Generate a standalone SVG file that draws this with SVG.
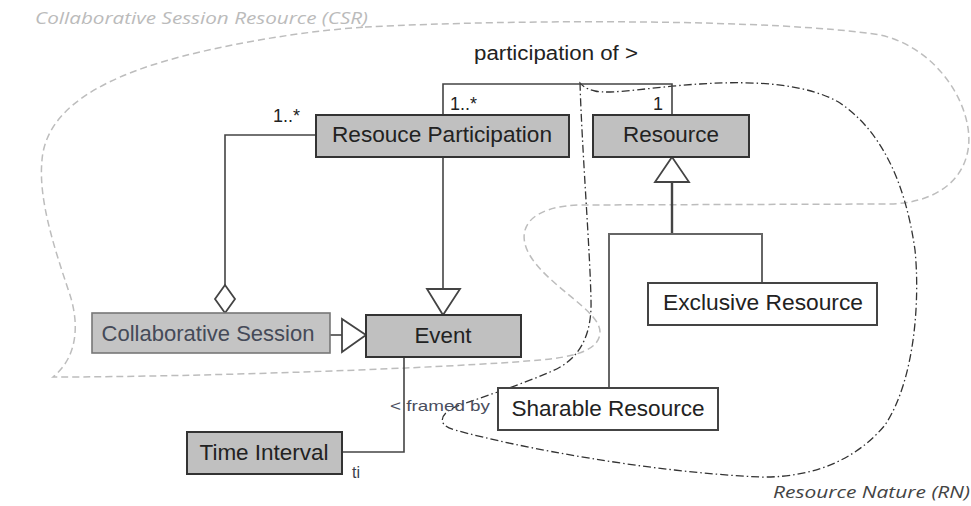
<svg xmlns="http://www.w3.org/2000/svg" width="971" height="506" viewBox="0 0 971 506">
  <style>
    .box { fill: #c0c0c0; stroke: #333; stroke-width: 2; }
    .box-light { fill: #c4c4c4; stroke: #777; stroke-width: 1.6; }
    .box-white { fill: #fff; stroke: #444; stroke-width: 2; }
    .label { font-family: "Liberation Sans", Arial, sans-serif; font-size: 22px; fill: #222; text-anchor: middle; }
    .small { font-family: "Liberation Sans", Arial, sans-serif; fill: #222; }
    .region { font-family: "Open Sans", "Liberation Sans", sans-serif; font-style: italic; font-size: 17px; }
    .line { fill: none; stroke: #444; stroke-width: 1.6; }
    .line-soft { fill: none; stroke: #666; stroke-width: 2; }
    .head { fill: #fff; stroke: #444; stroke-width: 1.8; stroke-linejoin: miter; }
    .csr { fill: none; stroke: #bdbdbd; stroke-width: 1.5; stroke-dasharray: 7 4; }
    .rn { fill: none; stroke: #333; stroke-width: 1.3; stroke-dasharray: 8 3 1.5 3; }
  </style>

  <!-- Region outlines -->
  <g id="regions">
    <path id="csr-outline" class="csr" d="M 365 27 C 520 19, 780 19, 880 35 C 940 48, 975 110, 968 150 C 962 185, 930 203, 890 204 L 580 205 C 535 206, 515 225, 528 252 C 545 285, 600 310, 600 332 C 600 350, 575 357, 540 360 C 450 368, 200 377, 53 377 C 80 355, 78 320, 70 295 C 55 250, 38 200, 42 160 C 46 110, 100 75, 200 52 C 260 38, 320 30, 365 27 Z"/>
    <path id="rn-outline" class="rn" d="M 580 83 C 582 150, 590 250, 591 300 C 592 335, 580 360, 550 372 C 520 385, 480 398, 460 405 C 440 412, 435 425, 455 430 C 520 448, 650 472, 760 477 C 820 478, 860 455, 885 425 C 915 380, 920 300, 915 250 C 905 180, 880 130, 840 103 C 810 85, 760 80, 700 84 C 660 86, 610 95, 595 91 C 585 89, 582 85, 580 83 Z"/>
    <text class="region" x="35" y="24" style="fill:#bbbbbb" textLength="333" lengthAdjust="spacingAndGlyphs">Collaborative Session Resource (CSR)</text>
    <text class="region" x="773" y="498" style="fill:#444" textLength="197" lengthAdjust="spacingAndGlyphs">Resource Nature (RN)</text>
  </g>

  <!-- Connectors -->
  <g id="connectors">
    <!-- participation of > -->
    <polyline class="line" points="443,115 443,84 672,84 672,115"/>
    <text class="small" x="474" y="60" font-size="20" textLength="164" lengthAdjust="spacingAndGlyphs">participation of &gt;</text>
    <text class="small" x="450" y="110" font-size="18">1..*</text>
    <text class="small" x="653" y="110" font-size="18">1</text>

    <!-- aggregation: Collaborative Session to Resouce Participation -->
    <polyline class="line" points="316,135 225,135 225,285"/>
    <polygon class="head" points="225,285 235,299 225,313 215,299"/>
    <text class="small" x="273" y="122" font-size="18">1..*</text>

    <!-- Resouce Participation is an Event -->
    <line class="line" x1="443" y1="157" x2="443" y2="289"/>
    <polygon class="head" points="427,289 460,289 443,315"/>

    <!-- Collaborative Session is an Event -->
    <line class="line" x1="330" y1="335" x2="342" y2="335"/>
    <polygon class="head" points="342,319 342,352 366,335"/>

    <!-- Resource specialisations -->
    <polygon class="head" points="672,157 655,182 689,182"/>
    <line x1="672" y1="182" x2="672" y2="234" stroke="#444" stroke-width="2.4"/>
    <polyline class="line-soft" points="609,388 609,234 762,234 762,283"/>

    <!-- framed by -->
    <polyline class="line" points="404,357 404,452 342,452"/>
    <text class="small" x="390" y="411" font-size="15" style="fill:#4a4e5e" textLength="100" lengthAdjust="spacingAndGlyphs">&lt; framed by</text>
    <text class="small" x="352" y="478" font-size="16" style="fill:#3a3f4e">ti</text>
  </g>

  <!-- Nodes -->
  <g id="resource-participation">
    <rect class="box" x="316" y="115" width="253" height="42"/>
    <text class="label" x="442" y="142" textLength="220" lengthAdjust="spacingAndGlyphs">Resouce Participation</text>
  </g>
  <g id="resource">
    <rect class="box" x="593" y="115" width="156" height="42"/>
    <text class="label" x="671" y="142" textLength="96" lengthAdjust="spacingAndGlyphs">Resource</text>
  </g>
  <g id="collaborative-session">
    <rect class="box-light" x="92" y="313" width="238" height="40"/>
    <text class="label" x="208" y="341" style="fill:#454a58" textLength="213" lengthAdjust="spacingAndGlyphs">Collaborative Session</text>
  </g>
  <g id="event">
    <rect class="box" x="366" y="315" width="155" height="42" stroke-width="2.4"/>
    <text class="label" x="443" y="343" textLength="57" lengthAdjust="spacingAndGlyphs">Event</text>
  </g>
  <g id="exclusive-resource">
    <rect class="box-white" x="648" y="283" width="229" height="42"/>
    <text class="label" x="763" y="310" textLength="200" lengthAdjust="spacingAndGlyphs">Exclusive Resource</text>
  </g>
  <g id="sharable-resource">
    <rect class="box-white" x="498" y="388" width="220" height="42"/>
    <text class="label" x="608" y="416" textLength="193" lengthAdjust="spacingAndGlyphs">Sharable Resource</text>
  </g>
  <g id="time-interval">
    <rect class="box" x="187" y="432" width="155" height="42"/>
    <text class="label" x="264" y="460" textLength="129" lengthAdjust="spacingAndGlyphs">Time Interval</text>
  </g>
</svg>
